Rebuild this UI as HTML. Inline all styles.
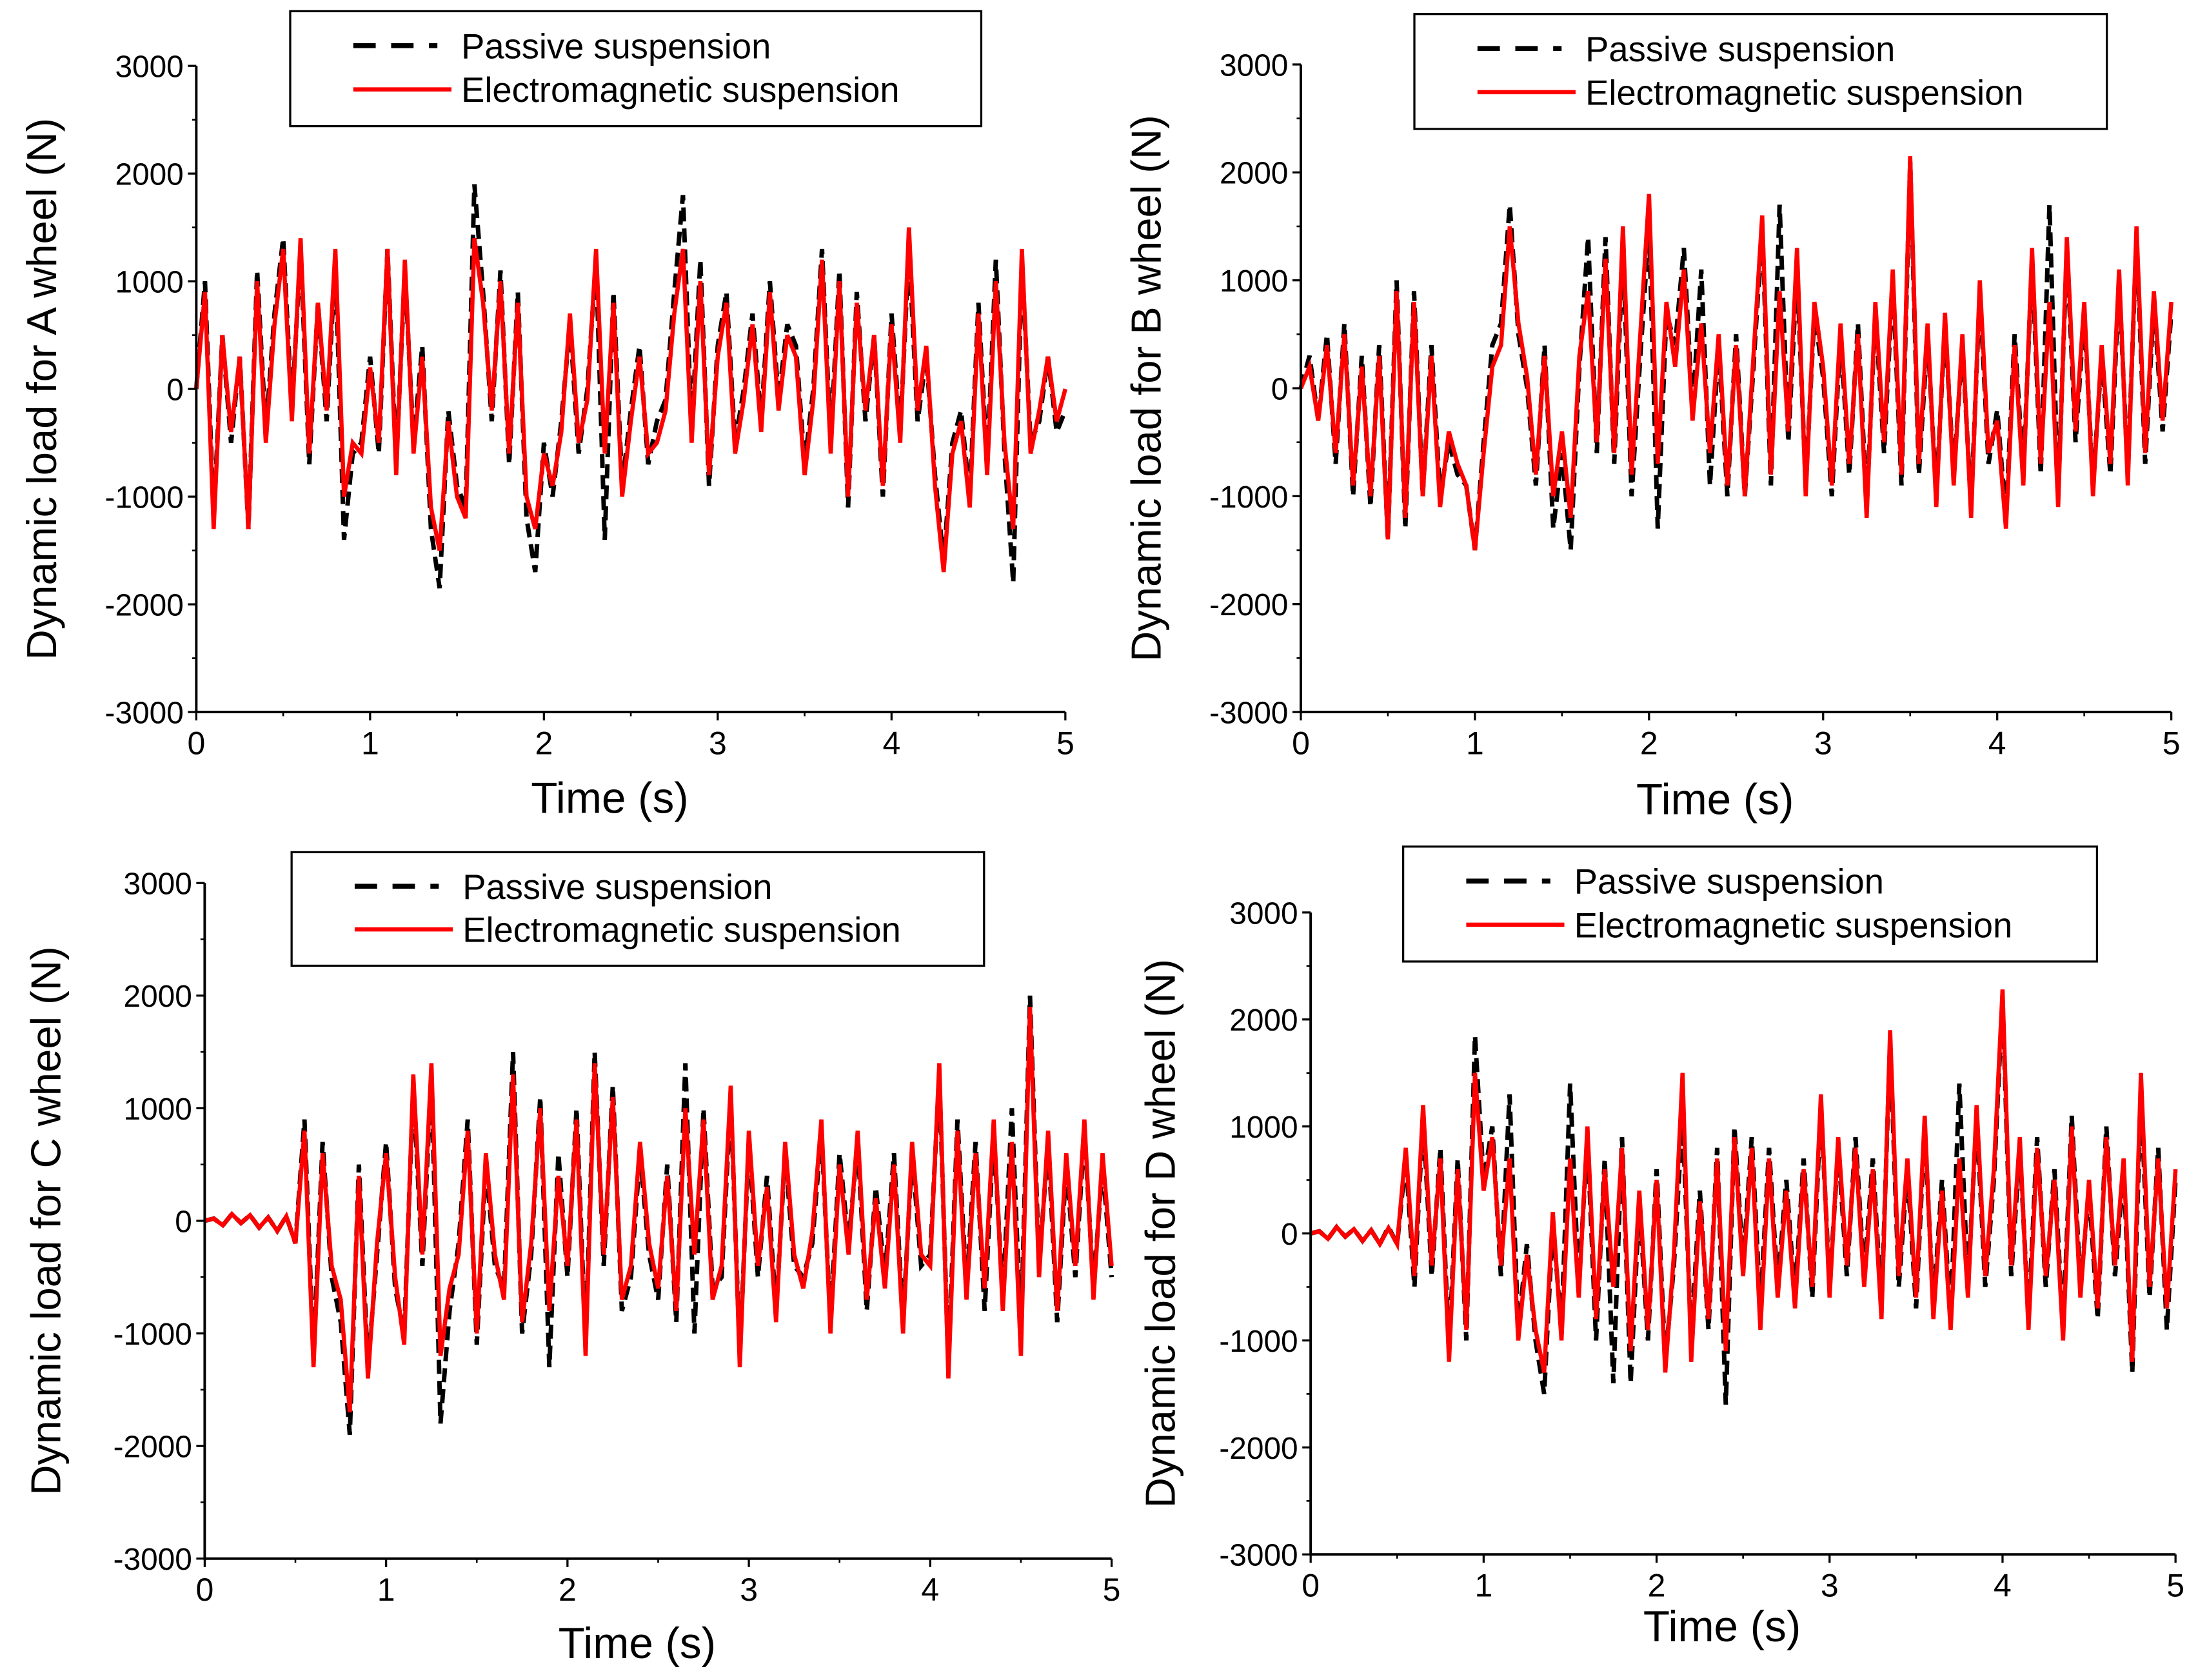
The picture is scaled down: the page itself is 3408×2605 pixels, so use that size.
<!DOCTYPE html>
<html><head><meta charset="utf-8"><style>
html,body{margin:0;padding:0;background:#fff}
svg{display:block}
text{font-family:"Liberation Sans",sans-serif;fill:#000}
</style></head><body>
<svg id="fig" width="3408" height="2605" viewBox="0 0 1568 1198.6" xmlns="http://www.w3.org/2000/svg"></svg>
<script>
// ---- data (t = 0 .. 5 s, step 0.05 s) ----
const timeStep = 0.05;
const xTicks = [0,1,2,3,4,5];
const yTicks = [-3000,-2000,-1000,0,1000,2000,3000];
const legendLabels = ["Passive suspension","Electromagnetic suspension"];
const wheelNames = ["A","B","C","D"];

const A_em = [0,900,-1300,500,-400,300,-1300,1000,-500,600,1300,-300,1400,-600,800,-200,1300,-1000,-500,-600,
200,-500,1300,-800,1200,-600,300,-1100,-1500,-300,-1000,-1200,1400,800,-200,1000,-600,800,-1000,-1300,
-600,-900,-400,700,-500,-100,1300,-600,800,-1000,-300,300,-600,-500,-200,700,1300,-500,1000,-800,
300,800,-600,-100,600,-400,900,-200,500,300,-800,-100,1200,-600,1000,-1000,800,-200,500,-900,
600,-500,1500,-200,400,-900,-1700,-600,-300,-1100,700,-800,1000,-500,-1300,1300,-600,-200,300,-300,0];
const A_pas = [0,1000,-1200,500,-500,300,-1300,1100,-400,700,1400,-200,1300,-700,800,-300,1200,-1400,-600,-500,
300,-600,1300,-700,1100,-500,400,-1300,-1850,-200,-900,-1100,1900,900,-300,1100,-700,900,-1200,-1700,
-500,-1000,-300,600,-600,0,1200,-1400,900,-900,-200,400,-700,-300,-100,900,1800,-400,1200,-900,
400,900,-500,0,700,-300,1000,-100,600,400,-700,0,1300,-500,1100,-1100,900,-300,500,-1000,
700,-400,1300,-300,300,-800,-1600,-500,-200,-1000,800,-700,1200,-600,-1800,1200,-500,-300,300,-400,-200];

const B_em = [0,200,-300,400,-600,500,-900,200,-1000,300,-1400,900,-1200,800,-1000,300,-1100,-400,-700,-900,
-1500,-600,200,400,1500,600,100,-800,300,-1000,-400,-1200,300,900,-500,1200,-600,1500,-800,500,
1800,-700,800,200,1100,-300,600,-600,500,-900,400,-1000,300,1600,-800,900,-400,1300,-1000,800,
200,-900,600,-700,500,-1200,800,-500,1100,-800,2150,-700,600,-1100,700,-900,500,-1200,1000,-600,
-300,-1300,400,-900,1300,-700,800,-1100,1400,-400,800,-1000,400,-700,1100,-900,1500,-600,900,-300,800];
const B_pas = [0,300,-300,500,-700,600,-1000,300,-1100,400,-1400,1000,-1300,900,-1000,400,-1000,-500,-800,-900,
-1500,-500,400,600,1700,500,0,-900,400,-1300,-600,-1500,200,1400,-600,1400,-700,1300,-1000,300,
1500,-1300,700,400,1300,-200,1100,-900,400,-1000,500,-1000,200,1500,-900,1700,-500,1100,-900,700,
100,-1000,500,-800,600,-1100,700,-600,1000,-900,2100,-800,500,-1000,600,-800,400,-1100,900,-700,
-200,-1200,500,-800,1200,-800,1700,-1000,1300,-500,700,-900,300,-800,1000,-800,1400,-700,800,-400,700];

const C_em = [0,20,-40,60,-20,50,-60,30,-90,40,-200,800,-1300,600,-400,-700,-1700,400,-1400,-200,
600,-500,-1100,1300,-300,1400,-1200,-600,-300,800,-1000,600,-300,-700,1300,-900,-200,1000,-800,400,
-400,900,-1200,1400,-300,1100,-700,-400,700,-200,-600,400,-800,1000,-300,900,-700,-400,1200,-1300,
800,-400,300,-900,700,-300,-600,-100,900,-1000,500,-300,800,-700,200,-600,500,-1000,700,-300,
-400,1400,-1400,800,-700,600,-600,900,-800,700,-1200,1900,-500,800,-800,600,-400,900,-700,600,-400];
const C_pas = [0,20,-40,60,-20,50,-60,30,-90,40,-200,900,-1200,700,-500,-900,-1900,500,-1300,-300,
700,-600,-1000,1200,-400,1300,-1800,-800,-200,900,-1100,500,-400,-600,1500,-1000,-300,1100,-1300,600,
-500,1000,-1100,1500,-400,1200,-800,-500,600,-300,-700,500,-900,1400,-1000,1000,-600,-500,1100,-1200,
700,-500,400,-800,600,-400,-500,-200,800,-900,600,-200,700,-800,300,-500,600,-900,600,-400,
-300,1300,-1300,900,-600,700,-800,800,-700,1000,-1000,2000,-400,700,-900,500,-500,800,-600,500,-500];

const D_em = [0,20,-50,60,-30,40,-70,30,-100,50,-100,800,-400,1200,-300,700,-1200,600,-900,1500,
400,900,-300,700,-1000,-200,-900,-1300,200,-1000,700,-600,1000,-800,600,-500,800,-1100,400,-900,
500,-1300,-200,1500,-1200,300,-800,700,-1100,900,-400,800,-900,700,-600,400,-700,600,-500,1300,
-600,900,-300,800,-500,600,-800,1900,-400,700,-600,1100,-800,400,-900,700,-600,1200,-400,600,
2280,-300,900,-900,800,-400,500,-1000,1000,-600,500,-700,900,-300,700,-1200,1500,-500,700,-700,600];
const D_pas = [0,20,-50,60,-30,40,-70,30,-100,60,-100,700,-500,1100,-400,800,-1100,700,-1000,1850,
500,1000,-400,1300,-900,-100,-1000,-1500,100,-900,1400,-500,900,-1000,700,-1400,900,-1400,300,-1000,
600,-1200,-300,1100,-1000,400,-900,800,-1600,1000,-300,900,-700,800,-500,500,-600,700,-600,1200,
-500,800,-400,900,-400,700,-700,1800,-500,600,-700,1000,-700,500,-800,1400,-500,1100,-500,500,
2200,-400,800,-800,900,-500,600,-900,1100,-500,400,-800,1000,-400,600,-1300,1300,-600,800,-900,500];

const NS="http://www.w3.org/2000/svg";
const svg=document.getElementById('fig');
function mk(tag,attrs,parent){const e=document.createElementNS(NS,tag);for(const k in attrs)e.setAttribute(k,attrs[k]);(parent||svg).appendChild(e);return e;}

const panels=[
 {x0:140,x1:760,yTop:47,yBot:508,leg:[207,8,700,90],ylabX:30,xlabY:580,pas:A_pas,em:A_em},
 {x0:928,x1:1549,yTop:46,yBot:508,leg:[1009,10,1503,92],ylabX:818,xlabY:581,pas:B_pas,em:B_em},
 {x0:146,x1:793,yTop:630,yBot:1112,leg:[208,608,702,689],ylabX:33,xlabY:1183,pas:C_pas,em:C_em},
 {x0:935,x1:1552,yTop:651,yBot:1109,leg:[1001,604,1496,686],ylabX:828,xlabY:1171,pas:D_pas,em:D_em}
];

panels.forEach((p,i)=>{
  const g=mk('g',{});
  
  
  const xs=t=>p.x0+(t/5)*(p.x1-p.x0);
  const ys=v=>p.yBot-(v+3000)/6000*(p.yBot-p.yTop);
  function line(arr,attrs,name){
    let d='';arr.forEach((v,k)=>{d+=(k?'L':'M')+xs(k*timeStep).toFixed(2)+' '+ys(v).toFixed(2);});
    const el=mk('path',Object.assign({d:d,fill:'none','stroke-linejoin':'miter'},attrs),g);
    
    
  }
  line(p.pas,{stroke:'#000','stroke-width':3.2,'stroke-dasharray':'10 5'},'passive-series');
  line(p.em,{stroke:'#ff0000','stroke-width':3},'electromagnetic-series');
  const ax=mk('path',{d:`M${p.x0} ${p.yTop}V${p.yBot}H${p.x1}`,fill:'none',stroke:'#000','stroke-width':1.8},g);
  
  
  yTicks.forEach((v,k)=>{
    mk('line',{x1:p.x0-6,x2:p.x0,y1:ys(v),y2:ys(v),stroke:'#000','stroke-width':1.5},g);
    if(k<yTicks.length-1){const m=v+500;mk('line',{x1:p.x0-3,x2:p.x0,y1:ys(m),y2:ys(m),stroke:'#000','stroke-width':1.2},g);}
    const t=mk('text',{x:p.x0-9,y:ys(v)+8,'text-anchor':'end','font-size':22},g);
    t.textContent=v;
    
    
  });
  xTicks.forEach((v,k)=>{
    mk('line',{x1:xs(v),x2:xs(v),y1:p.yBot,y2:p.yBot+6,stroke:'#000','stroke-width':1.5},g);
    if(k<xTicks.length-1)mk('line',{x1:xs(v+0.5),x2:xs(v+0.5),y1:p.yBot,y2:p.yBot+3,stroke:'#000','stroke-width':1.2},g);
    const t=mk('text',{x:xs(v),y:p.yBot+30,'text-anchor':'middle','font-size':23},g);
    t.textContent=v;
    
    
  });
  const xt=mk('text',{x:(p.x0+p.x1)/2-15,y:p.xlabY,'text-anchor':'middle','font-size':31},g);
  xt.textContent='Time (s)';
  
  
  const yc=(p.yTop+p.yBot)/2;
  const yt=mk('text',{x:p.ylabX,y:yc,'text-anchor':'middle','font-size':30,transform:`rotate(-90 ${p.ylabX} ${yc})`,dy:10},g);
  yt.textContent='Dynamic load for '+wheelNames[i]+' wheel (N)';
  
  
  const [lx0,ly0,lx1,ly1]=p.leg;
  const lg=mk('g',{},g);
  
  
  mk('rect',{x:lx0,y:ly0,width:lx1-lx0,height:ly1-ly0,fill:'#fff',stroke:'#000','stroke-width':1.5},lg);
  const r1=ly0+(ly1-ly0)*0.3, r2=ly0+(ly1-ly0)*0.68;
  mk('line',{x1:lx0+45,x2:lx0+105,y1:r1,y2:r1,stroke:'#000','stroke-width':3.5,'stroke-dasharray':'16 11'},lg);
  mk('line',{x1:lx0+45,x2:lx0+115,y1:r2,y2:r2,stroke:'#ff0000','stroke-width':3},lg);
  [r1,r2].forEach((r,k)=>{
    const t=mk('text',{x:lx0+122,y:r+9,'font-size':25},lg);
    t.textContent=legendLabels[k];
    
    
  });
});
</script>
</body></html>
